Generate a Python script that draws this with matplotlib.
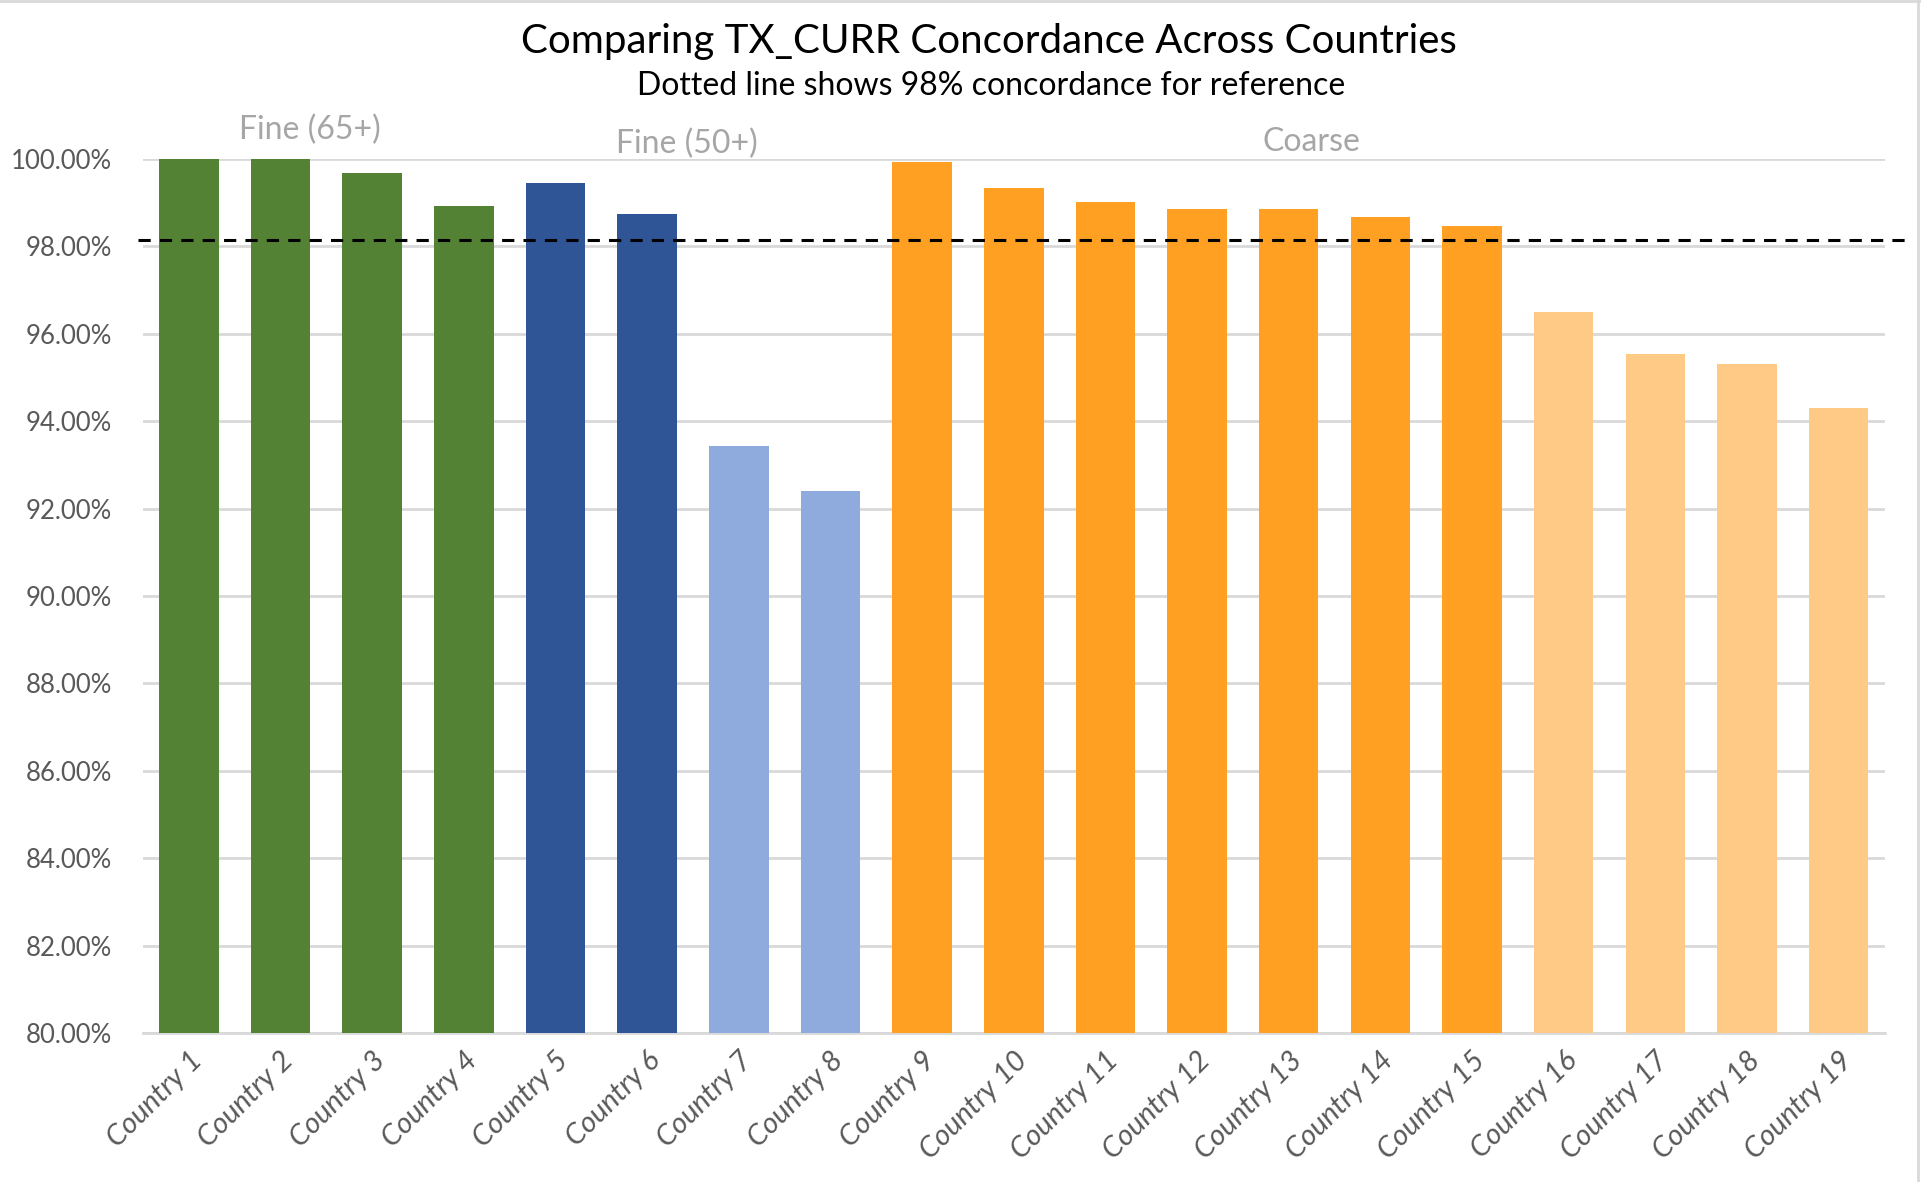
import numpy as np
import matplotlib
matplotlib.use("Agg")
import matplotlib.pyplot as plt
from matplotlib.lines import Line2D
from matplotlib.ticker import FuncFormatter

# ---------------------------------------------------------------------------
# Data
# ---------------------------------------------------------------------------
countries = [f"Country {i}" for i in range(1, 20)]
concordance = [100.0, 100.0, 99.69, 98.93, 99.44, 98.74, 93.44, 92.40,
               99.94, 99.33, 99.02, 98.85, 98.85, 98.68, 98.46,
               96.49, 95.54, 95.32, 94.31]
bar_colors = (["#548235"] * 4 + ["#2F5597"] * 2 + ["#8FAADC"] * 2
              + ["#FFA022"] * 7 + ["#FFCA85"] * 4)
reference_line = 98.14

group_labels = ["Fine (65+)", "Fine (50+)", "Coarse"]
group_x = [1.32, 5.43, 12.25]
group_y = [100.67, 100.34, 100.39]

FONT = ["Lato", "DejaVu Sans"]
plt.rcParams["font.family"] = FONT

fig = plt.figure(figsize=(19.21, 11.82), dpi=100, facecolor="white")
ax = fig.add_axes([0.0744, 0.126, 0.9066, 0.7395])

x = np.arange(len(countries))
ax.bar(x, concordance, width=0.65, color=bar_colors, zorder=3)

ax.set_xlim(-0.5, len(countries) - 0.5)
ax.set_ylim(80, 100)
ax.set_yticks(np.arange(80, 100.1, 2))
ax.yaxis.set_major_formatter(FuncFormatter(lambda v, _: f"{v:.2f}%"))
ax.grid(axis="y", color="#D9D9D9", linewidth=2, zorder=0)
ax.tick_params(axis="y", length=0, labelsize=18.5, labelcolor="#595959", pad=22)
ax.tick_params(axis="x", length=0, pad=10)
ax.set_xticks(x)
ax.set_xticklabels(countries, rotation=45, ha="right", va="top",
                   rotation_mode="anchor", fontsize=21, color="#595959",
                   style="italic")
for side in ["top", "right", "left"]:
    ax.spines[side].set_visible(False)
ax.spines["bottom"].set_color("#D9D9D9")
ax.spines["bottom"].set_linewidth(2)

# dashed reference line, runs a little past the plot area
ax.plot([-0.55, 18.75], [reference_line, reference_line], color="black",
        linestyle=(0, (4, 3)), linewidth=2.2, zorder=4, clip_on=False)

for lab, gx, gy in zip(group_labels, group_x, group_y):
    ax.text(gx, gy, lab, ha="center", va="center", fontsize=23,
            color="#A6A6A6", clip_on=False)

fig.text(0.515, 0.965, "Comparing TX_CURR Concordance Across Countries",
         ha="center", va="center", fontsize=29, color="black")
fig.text(0.516, 0.927, "Dotted line shows 98% concordance for reference",
         ha="center", va="center", fontsize=23, color="black")

# chart border visible at top and right edge
fig.add_artist(Line2D([0, 1], [0.999, 0.999], color="#D9D9D9", linewidth=2,
                      transform=fig.transFigure))
fig.add_artist(Line2D([0.9985, 0.9985], [0, 1], color="#D9D9D9", linewidth=2,
                      transform=fig.transFigure))

fig.savefig("out.png", dpi=100, facecolor="white")
